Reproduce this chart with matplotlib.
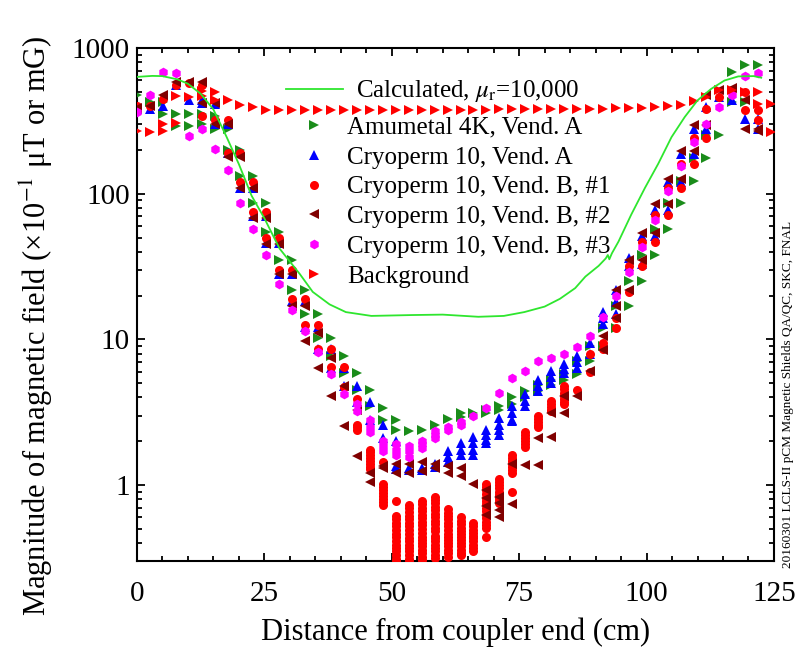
import matplotlib
matplotlib.use("Agg")
import matplotlib.pyplot as plt
from matplotlib.ticker import MultipleLocator, LogLocator, NullFormatter, FixedLocator, FixedFormatter

# measurement positions (1 inch steps), cm
positions_cm = [0.0, 2.54, 5.08, 7.62, 10.16, 12.7, 15.24, 17.78, 20.32, 22.86,
                25.4, 27.94, 30.48, 33.02, 35.56, 38.1, 40.64, 43.18, 45.72, 48.26,
                50.8, 53.34, 55.88, 58.42, 60.96, 63.5, 66.04, 68.58, 71.12, 73.66,
                76.2, 78.74, 81.28, 83.82, 86.36, 88.9, 91.44, 93.98, 96.52, 99.06,
                101.6, 104.14, 106.68, 109.22, 111.76, 114.3, 116.84, 119.38, 121.92]
bg_positions_cm = positions_cm + [124.46]

# calculated curve, mu_r = 10,000
calc_x = [0, 3, 5, 8, 10, 12.5, 15, 17.5, 20, 22.5, 25, 28, 32, 34.5, 37.8, 41, 46, 54,
          60, 67, 72, 76, 80, 83, 86, 88, 90.6, 92, 92.4, 92.7, 93.2, 94.5, 97, 99.7,
          102.3, 104.9, 107.5, 110, 112.7, 115.3, 118, 121, 122.5]
calc_y = [635, 645, 643, 610, 570, 487, 380, 250, 160, 97, 68, 42, 28, 21.2, 17.4, 15.4,
          14.5, 14.7, 14.8, 14.3, 14.5, 15.4, 16.8, 19, 22.5, 27, 32, 36, 38, 35.5, 39,
          47, 72, 110, 161, 245, 337, 438, 526, 600, 640, 643, 627]

# measured values at each position (several readings per position)
amumetal_a = [[480], [430], [430, 355], [355, 290], [355, 290], [355, 300], [340, 280],
              [280, 200], [200, 133], [133, 87], [87, 55], [55, 35], [35, 22], [22, 15],
              [15, 10.3], [10.3, 7.7], [7.7, 5.9], [5.9, 4.5], [4.5, 3.5], [3.4, 2.8],
              [2.8, 2.4], [2.35], [2.4], [2.6], [2.85], [2.95, 3.1], [3.1], [3.3, 3.1],
              [3.5, 3.3], [4.0, 3.6], [4.4, 4.0], [4.9, 4.4], [5.3, 4.9], [5.8, 5.3],
              [7.1, 5.8], [9.0, 7.1], [12, 9.0], [17, 12], [25, 17], [38, 25], [57, 38],
              [86, 57], [122, 86], [176, 122], [254, 176], [254], [430, 690], [765, 430],
              [765]]
cryo_a = [[380], [380], [400], [560], [440], [440, 420], [416, 300], [300, 190],
          [190, 110], [110, 70], [70, 46], [46, 28], [28, 18.5], [18.5, 12.2],
          [12.2, 8.6], [8.6, 6.4], [6.4, 4.8], [4.8, 3.7], [3.7, 2.8], [2.6, 2.1],
          [2.0, 1.35, 1.28], [1.3, 1.27], [1.3, 1.27], [1.4, 1.33], [1.7, 1.55, 1.45],
          [1.95, 1.75, 1.6], [2.15, 1.95, 1.75, 1.6], [2.4, 2.2, 2.05, 1.95],
          [2.9, 2.6, 2.4, 2.2], [3.5, 3.1, 2.8, 2.75], [4.2, 3.8, 3.5], [5.3, 4.8, 4.4],
          [6.1, 5.5, 5.0], [6.8, 6.3, 5.9], [7.7, 7.0, 6.4], [9.5, 8.0], [15.5, 14, 12.7],
          [22, 18, 15], [36, 32], [51, 33], [77, 51], [120, 77], [188, 120], [280, 188],
          [394, 280], [462], [438], [328], [328, 280]]
cryo_b1 = [[400], [400], [450], [560], [580], [560, 340], [322], [322, 190], [190, 120],
           [120, 75], [75, 50], [50, 30], [30, 19], [19, 12.5], [12.5, 8.6], [8.6, 6.5],
           [6.5, 4.7], [3.9, 2.6, 2.5, 2.4],
           [1.75, 1.68, 1.6, 1.53, 1.46, 1.4, 1.34, 1.28],
           [1.43, 1.02, 0.97, 0.92, 0.88, 0.84, 0.8, 0.76, 0.73],
           [0.78, 0.61, 0.58, 0.55, 0.52, 0.49, 0.46, 0.44, 0.41, 0.39, 0.37, 0.35,
            0.33, 0.31, 0.295],
           [0.73, 0.69, 0.65, 0.61, 0.58, 0.55, 0.52, 0.49, 0.46, 0.43, 0.41, 0.39,
            0.37, 0.35, 0.33, 0.31, 0.295],
           [0.78, 0.74, 0.7, 0.66, 0.62, 0.59, 0.56, 0.53, 0.5, 0.47, 0.44, 0.42, 0.4,
            0.38, 0.36, 0.34, 0.32, 0.305],
           [0.83, 0.79, 0.75, 0.71, 0.67, 0.63, 0.6, 0.57, 0.54, 0.51, 0.48, 0.45, 0.43,
            0.41, 0.39, 0.37, 0.35, 0.33, 0.315],
           [0.68, 0.64, 0.61, 0.58, 0.55, 0.52, 0.49, 0.46, 0.44, 0.42, 0.4, 0.38, 0.36,
            0.34, 0.32],
           [0.6, 0.57, 0.54, 0.51, 0.48, 0.46, 0.44, 0.42, 0.4, 0.38, 0.36, 0.34, 0.33],
           [0.55, 0.52, 0.49, 0.47, 0.45, 0.43, 0.41, 0.39, 0.37, 0.355],
           [1.02, 0.97, 0.92, 0.87, 0.82, 0.78, 0.74, 0.7, 0.66, 0.62, 0.59, 0.56, 0.53,
            0.51, 0.44],
           [1.1, 1.05, 1.0, 0.95, 0.9, 0.86, 0.82, 0.78, 0.75],
           [1.6, 1.53, 1.46, 1.4, 1.33, 1.27, 1.21, 0.9],
           [2.3, 2.2, 2.1, 2.0, 1.9, 1.82], [3.0, 2.85, 2.7, 2.6, 2.5],
           [3.8, 3.6, 3.45, 3.3, 3.2], [4.8, 4.55, 4.3, 4.1, 3.9, 3.7, 3.6],
           [4.5], [8.0, 6.0], [9.5, 8.6], [14, 12],
           [32, 21], [47, 32], [71, 47], [110, 71], [160, 110], [240, 160], [384, 240],
           [460], [514], [374, 500], [374, 320]]
cryo_b2 = [[390], [400], [480], [590], [590], [590, 420], [420, 300], [300, 180],
           [180, 110], [110, 68], [68, 45], [45, 28], [28, 17], [17, 9.8], [11, 6.4],
           [7.5, 4.1], [4.8, 2.55], [3.3, 1.57], [1.2, 1.05], [1.35, 1.3], [1.4, 1.2],
           [1.4, 1.2], [1.45, 1.25], [1.4, 1.3], [1.35, 1.2], [1.3, 1.15], [1.02],
           [0.92, 0.82, 0.72, 0.62], [0.83, 0.75, 0.67, 0.6], [1.4, 0.74], [1.37],
           [2.1, 1.37], [3.1, 2.15], [4.1, 3.1], [4.1], [6.1], [10.5, 8.5], [22, 17, 14],
           [35, 22], [54, 35], [85, 54], [126, 85], [198, 126], [295, 198], [475, 295],
           [515], [530], [440, 280], [280, 270]]
cryo_b3 = [[364], [475], [689], [671], [250], [280], [203], [146], [87], [57], [38],
           [24], [16], [11.5], [8.2], [5.8], [4.2], [3.6, 3.2], [2.8, 2.5, 2.3],
           [2.0, 1.85, 1.7], [1.9, 1.75, 1.6], [1.85, 1.7, 1.55], [2.0, 1.9, 1.8],
           [2.35, 2.2, 2.1], [2.5, 2.4], [2.7, 2.6], [3.0], [3.4], [4.3], [5.4], [6.1],
           [7.1], [7.5], [7.9], [8.8], [10.6], [14.2], [20], [29], [43], [66], [104],
           [155], [227], [302], [394], [480], [642], [680]]
background = [[272], [265], [268, 300], [305, 470], [462], [510, 470], [500, 440], [440],
              [410], [395], [378], [375], [374], [374], [374], [375], [376], [375], [375],
              [374], [374], [375], [376], [377], [377], [378], [378], [379], [380], [380],
              [381], [382], [383], [384], [384], [384], [384], [386], [388], [390], [394],
              [400], [405], [431], [460], [514], [514], [500], [500, 416], [416, 265]]

series = [
    ("Amumetal 4K, Vend. A", amumetal_a, positions_cm, ">", "#1a8c1a", 7.5),
    ("Cryoperm 10, Vend. A", cryo_a, positions_cm, "^", "#0000ff", 7.0),
    ("Cryoperm 10, Vend. B, #1", cryo_b1, positions_cm, "o", "#ff0000", 6.5),
    ("Cryoperm 10, Vend. B, #2", cryo_b2, positions_cm, "<", "#800000", 7.5),
    ("Cryoperm 10, Vend. B, #3", cryo_b3, positions_cm, "h", "#ff00ff", 7.0),
    ("Background", background, bg_positions_cm, ">", "#ff0000", 7.5),
]

plt.rcParams["font.family"] = ["Liberation Serif", "DejaVu Serif"]
plt.rcParams["mathtext.fontset"] = "stix"

fig = plt.figure(figsize=(7.96, 6.51), dpi=100)
ax = fig.add_axes([0.172, 0.138, 0.8003, 0.788])

line_calc, = ax.plot(calc_x, calc_y, color="#2ee62e", lw=1.3, zorder=10,
                     label=r"Calculated, $\mu_\mathrm{r}$=10,000")

handles = []
for k, (name, vals, xpos, marker, color, ms) in enumerate(series):
    xs, ys = [], []
    for xi, v in zip(xpos, vals):
        xs += [xi] * len(v)
        ys += v
    h, = ax.plot(xs, ys, linestyle="none", marker=marker, color=color, ms=ms,
                 markeredgewidth=0, zorder=3 + k, label=name)
    handles.append(h)

ax.set_yscale("log")
ax.set_xlim(0, 125)
ax.set_ylim(0.3, 1000)

ax.xaxis.set_major_locator(MultipleLocator(25))
ax.xaxis.set_minor_locator(MultipleLocator(5))
ax.yaxis.set_major_locator(FixedLocator([1, 10, 100, 1000]))
ax.yaxis.set_major_formatter(FixedFormatter(["1", "10", "100", "1000"]))
ax.yaxis.set_minor_locator(LogLocator(base=10, subs=range(2, 10)))
ax.yaxis.set_minor_formatter(NullFormatter())

ax.tick_params(which="both", direction="in", top=True, right=True, width=1.3)
ax.tick_params(which="major", length=6, labelsize=21)
ax.tick_params(which="minor", length=3.5)
ax.tick_params(axis="x", which="major", pad=14)
ax.tick_params(axis="y", which="major", pad=5)
for sp in ax.spines.values():
    sp.set_linewidth(1.5)

ax.set_xlabel("Distance from coupler end (cm)", fontsize=22, labelpad=8)
ax.set_ylabel("Magnitude of magnetic field (×10$^{-1}$ μT or mG)", fontsize=22)
ax.yaxis.set_label_coords(-0.128, 0.458)

# calculated curve legend entry, then the measured series
leg1 = ax.legend(handles=[line_calc], loc="center left", bbox_to_anchor=(0.234, 0.916),
                 frameon=False, fontsize=18, handlelength=2.3, handletextpad=0.5,
                 borderpad=0, borderaxespad=0)
ax.add_artist(leg1)
ax.legend(handles=handles, loc="upper left", bbox_to_anchor=(0.247, 0.867),
          frameon=False, fontsize=18, handlelength=1.6, handletextpad=0.5,
          labelspacing=0.29, borderpad=0, borderaxespad=0, numpoints=1)

fig.text(0.990, 0.127, "20160301 LCLS-II pCM Magnetic Shields QA/QC, SKC, FNAL",
         rotation=90, fontsize=9.5, ha="center", va="bottom")

fig.savefig("out.png", dpi=100)
